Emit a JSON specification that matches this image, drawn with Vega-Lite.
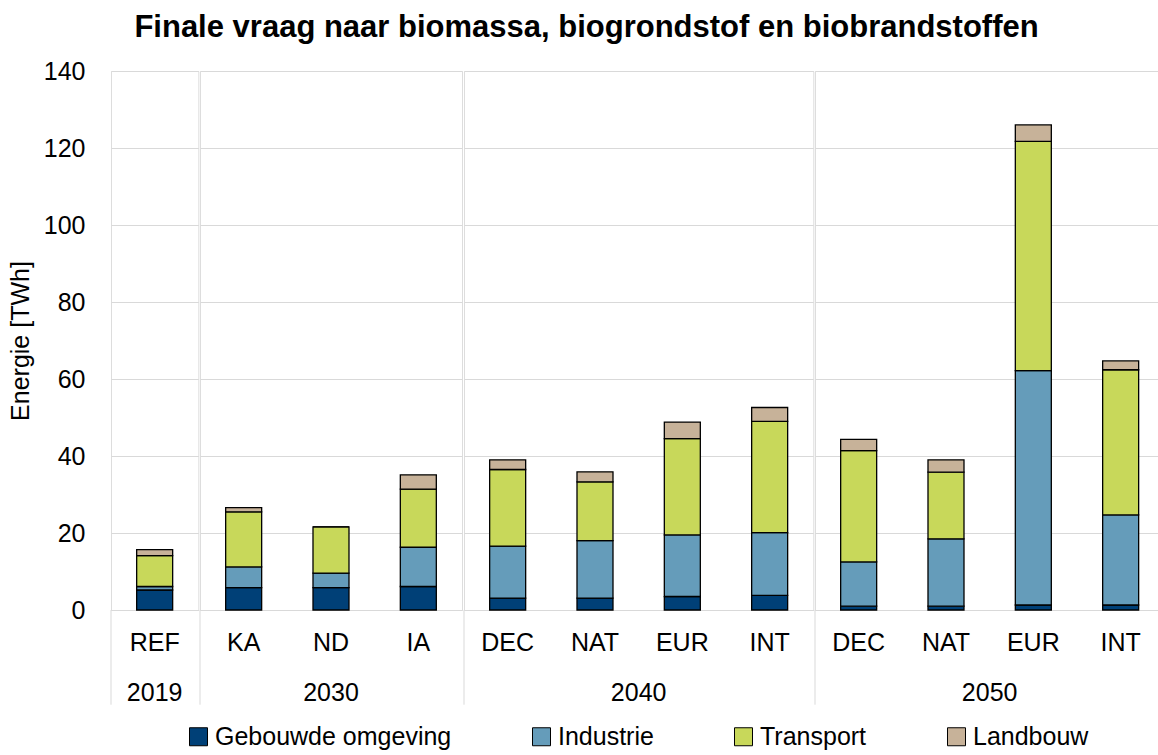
{
  "$schema": "https://vega.github.io/schema/vega-lite/v6.json",
  "padding": {"left": 8, "right": 0, "top": 12, "bottom": 0},
  "background": "white",
  "title": {"text": "Finale vraag naar biomassa, biogrondstof en biobrandstoffen", "font": "Liberation Sans", "fontSize": 31, "fontWeight": "bold", "anchor": "middle", "color": "black", "offset": 15},
  "data": {"values": [
    {"jaar": "2019", "scenario": "REF", "sector": "Gebouwde omgeving", "waarde": 5.2},
    {"jaar": "2019", "scenario": "REF", "sector": "Industrie", "waarde": 0.9},
    {"jaar": "2019", "scenario": "REF", "sector": "Transport", "waarde": 8.0},
    {"jaar": "2019", "scenario": "REF", "sector": "Landbouw", "waarde": 1.6},
    {"jaar": "2030", "scenario": "KA", "sector": "Gebouwde omgeving", "waarde": 5.8},
    {"jaar": "2030", "scenario": "KA", "sector": "Industrie", "waarde": 5.4},
    {"jaar": "2030", "scenario": "KA", "sector": "Transport", "waarde": 14.3},
    {"jaar": "2030", "scenario": "KA", "sector": "Landbouw", "waarde": 1.1},
    {"jaar": "2030", "scenario": "ND", "sector": "Gebouwde omgeving", "waarde": 5.8},
    {"jaar": "2030", "scenario": "ND", "sector": "Industrie", "waarde": 3.8},
    {"jaar": "2030", "scenario": "ND", "sector": "Transport", "waarde": 12.0},
    {"jaar": "2030", "scenario": "ND", "sector": "Landbouw", "waarde": 0.0},
    {"jaar": "2030", "scenario": "IA", "sector": "Gebouwde omgeving", "waarde": 6.1},
    {"jaar": "2030", "scenario": "IA", "sector": "Industrie", "waarde": 10.2},
    {"jaar": "2030", "scenario": "IA", "sector": "Transport", "waarde": 15.1},
    {"jaar": "2030", "scenario": "IA", "sector": "Landbouw", "waarde": 3.7},
    {"jaar": "2040", "scenario": "DEC", "sector": "Gebouwde omgeving", "waarde": 3.1},
    {"jaar": "2040", "scenario": "DEC", "sector": "Industrie", "waarde": 13.5},
    {"jaar": "2040", "scenario": "DEC", "sector": "Transport", "waarde": 19.9},
    {"jaar": "2040", "scenario": "DEC", "sector": "Landbouw", "waarde": 2.5},
    {"jaar": "2040", "scenario": "NAT", "sector": "Gebouwde omgeving", "waarde": 3.1},
    {"jaar": "2040", "scenario": "NAT", "sector": "Industrie", "waarde": 14.9},
    {"jaar": "2040", "scenario": "NAT", "sector": "Transport", "waarde": 15.3},
    {"jaar": "2040", "scenario": "NAT", "sector": "Landbouw", "waarde": 2.6},
    {"jaar": "2040", "scenario": "EUR", "sector": "Gebouwde omgeving", "waarde": 3.5},
    {"jaar": "2040", "scenario": "EUR", "sector": "Industrie", "waarde": 16.0},
    {"jaar": "2040", "scenario": "EUR", "sector": "Transport", "waarde": 25.0},
    {"jaar": "2040", "scenario": "EUR", "sector": "Landbouw", "waarde": 4.3},
    {"jaar": "2040", "scenario": "INT", "sector": "Gebouwde omgeving", "waarde": 3.8},
    {"jaar": "2040", "scenario": "INT", "sector": "Industrie", "waarde": 16.3},
    {"jaar": "2040", "scenario": "INT", "sector": "Transport", "waarde": 28.9},
    {"jaar": "2040", "scenario": "INT", "sector": "Landbouw", "waarde": 3.6},
    {"jaar": "2050", "scenario": "DEC", "sector": "Gebouwde omgeving", "waarde": 1.0},
    {"jaar": "2050", "scenario": "DEC", "sector": "Industrie", "waarde": 11.5},
    {"jaar": "2050", "scenario": "DEC", "sector": "Transport", "waarde": 28.9},
    {"jaar": "2050", "scenario": "DEC", "sector": "Landbouw", "waarde": 2.9},
    {"jaar": "2050", "scenario": "NAT", "sector": "Gebouwde omgeving", "waarde": 1.0},
    {"jaar": "2050", "scenario": "NAT", "sector": "Industrie", "waarde": 17.5},
    {"jaar": "2050", "scenario": "NAT", "sector": "Transport", "waarde": 17.3},
    {"jaar": "2050", "scenario": "NAT", "sector": "Landbouw", "waarde": 3.2},
    {"jaar": "2050", "scenario": "EUR", "sector": "Gebouwde omgeving", "waarde": 1.3},
    {"jaar": "2050", "scenario": "EUR", "sector": "Industrie", "waarde": 60.9},
    {"jaar": "2050", "scenario": "EUR", "sector": "Transport", "waarde": 59.5},
    {"jaar": "2050", "scenario": "EUR", "sector": "Landbouw", "waarde": 4.3},
    {"jaar": "2050", "scenario": "INT", "sector": "Gebouwde omgeving", "waarde": 1.3},
    {"jaar": "2050", "scenario": "INT", "sector": "Industrie", "waarde": 23.4},
    {"jaar": "2050", "scenario": "INT", "sector": "Transport", "waarde": 37.7},
    {"jaar": "2050", "scenario": "INT", "sector": "Landbouw", "waarde": 2.3}
  ]},
  "facet": {"column": {"field": "jaar", "type": "ordinal", "header": {"title": null, "labelOrient": "bottom", "labelFont": "Liberation Sans", "labelFontSize": 25, "labelColor": "black", "labelPadding": -25}}},
  "spacing": 0,
  "resolve": {"scale": {"x": "independent"}},
  "spec": {
    "width": {"step": 87.33},
    "height": 539,
    "layer": [
      {
        "transform": [{"calculate": "indexof(['Gebouwde omgeving', 'Industrie', 'Transport', 'Landbouw'], datum.sector)", "as": "volgorde"}],
        "mark": {"type": "bar", "size": 36, "stroke": "black", "strokeWidth": 1.3},
        "encoding": {
          "x": {"field": "scenario", "type": "nominal", "sort": null, "scale": {"paddingInner": 0, "paddingOuter": 0},
            "axis": {"title": null, "labelFont": "Liberation Sans", "labelFontSize": 25, "labelColor": "black", "labelAngle": 0, "ticks": false, "domainColor": "#d9d9d9", "domainWidth": 1, "labelPadding": 20, "grid": false}},
          "y": {"field": "waarde", "type": "quantitative", "stack": "zero", "scale": {"domain": [0, 140], "nice": false},
            "axis": {"title": "Energie [TWh]", "titleFont": "Liberation Sans", "titleFontSize": 25, "titleFontWeight": "normal", "titleColor": "black", "labelFont": "Liberation Sans", "labelFontSize": 25, "labelColor": "black", "ticks": false, "domain": false, "gridColor": "#d9d9d9", "gridWidth": 1, "values": [0, 20, 40, 60, 80, 100, 120, 140], "labelPadding": 25, "titlePadding": 10}},
          "color": {"field": "sector", "type": "nominal", "sort": ["Gebouwde omgeving", "Industrie", "Transport", "Landbouw"],
            "scale": {"domain": ["Gebouwde omgeving", "Industrie", "Transport", "Landbouw"], "range": ["#004077", "#659cba", "#c8d85a", "#c7b299"]},
            "legend": {"orient": "none", "legendX": 75, "legendY": 653, "direction": "horizontal", "title": null, "labelFont": "Liberation Sans", "labelFontSize": 25, "labelColor": "black", "labelLimit": 500, "symbolType": "square", "symbolSize": 324, "symbolStrokeColor": "black", "symbolStrokeWidth": 1, "columnPadding": 77, "labelOffset": 4}},
          "order": {"field": "volgorde", "type": "quantitative", "sort": "ascending"}
        }
      },
      {
        "transform": [{"filter": "datum.sector == 'Gebouwde omgeving' && (datum.scenario == 'REF' || datum.scenario == 'KA' || datum.scenario == 'DEC')"}],
        "mark": {"type": "rule", "color": "#d9d9d9", "strokeWidth": 1},
        "encoding": {
          "x": {"field": "scenario", "type": "nominal", "sort": null, "bandPosition": 0},
          "y": {"datum": 0, "scale": {"domain": [0, 140], "nice": false}},
          "y2": {"datum": -24.6}
        }
      }
    ]
  }
}
